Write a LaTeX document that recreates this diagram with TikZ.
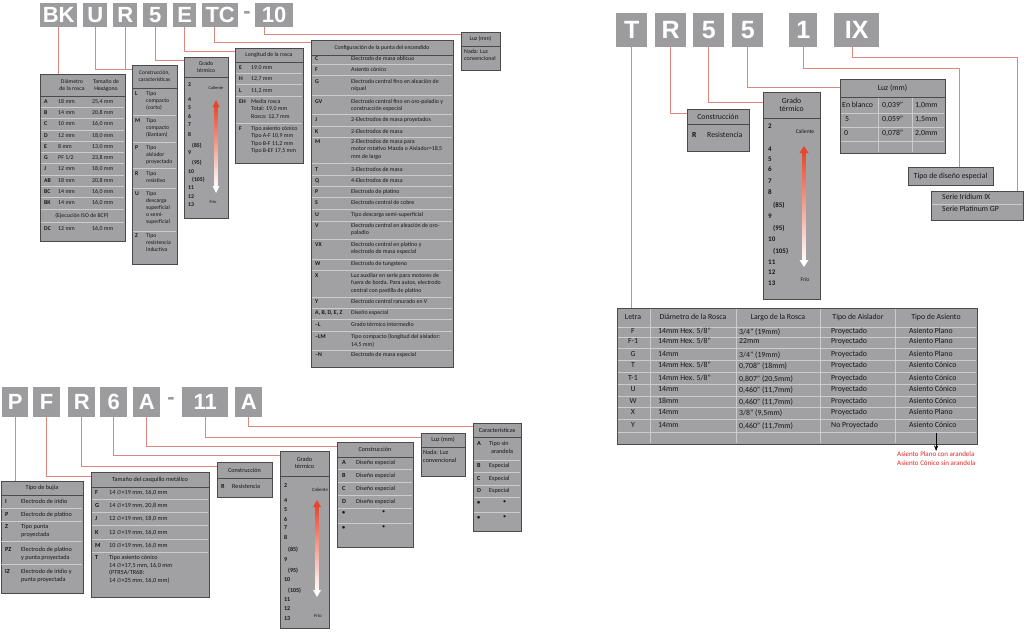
\documentclass[tikz,border=0pt]{standalone}
\usepackage{fontspec}
\setmainfont{Carlito}
\newfontfamily\symfont{DejaVu Sans}
\newfontfamily\keyfont{Liberation Sans}
\usetikzlibrary{arrows.meta}

\definecolor{keyfill}{RGB}{156,156,158}
\definecolor{tabfill}{RGB}{161,161,164}
\definecolor{tabline}{RGB}{74,74,76}
\definecolor{rowsep}{RGB}{204,204,206}
\definecolor{leadred}{RGB}{221,136,126}
\definecolor{arrred}{RGB}{232,70,44}
\definecolor{notered}{RGB}{222,38,38}
\definecolor{txtdark}{RGB}{22,22,24}

\newcommand{\ddiam}{{\symfont\fontsize{5.4}{6}\selectfont ∅}}

\begin{document}
\begin{tikzpicture}[x=1pt, y=-1pt, >=Stealth, text=txtdark,
  font=\fontsize{5.8}{7}\selectfont,
  keybox/.style={fill=keyfill, text=white, inner sep=0pt, anchor=north west, font=\keyfont\fontsize{22}{22}\selectfont\bfseries},
  keybig/.style={keybox, font=\keyfont\fontsize{25}{25}\selectfont\bfseries},
  keydash/.style={text=keyfill, inner sep=0pt, font=\keyfont\fontsize{22}{22}\selectfont\bfseries},
  tab/.style={draw=tabline, fill=tabfill, line width=1.1pt, inner sep=0pt, anchor=north west},
  lead/.style={draw=leadred, line width=0.9pt},
  hsep/.style={draw=tabline, line width=0.8pt},
  rsep/.style={draw=rowsep, line width=0.5pt},
  hd/.style={inner sep=0pt, align=center},
  lt/.style={inner sep=0pt, anchor=north west, yshift=2.9pt, font=\fontsize{5.8}{7}\selectfont\bfseries},
  tx/.style={inner sep=0pt, anchor=north west, yshift=2.9pt, align=left, font=\fontsize{5.9}{7.5}\selectfont},
  hdb/.style={hd, font=\fontsize{6.2}{7.5}\selectfont},
  ltb/.style={lt, yshift=0.2pt, font=\fontsize{6.2}{7.7}\selectfont\bfseries},
  txb/.style={tx, yshift=0.2pt, font=\fontsize{6.2}{7.7}\selectfont},
  hdr/.style={hd, font=\fontsize{7.8}{8.5}\selectfont},
  ltr/.style={lt, yshift=1pt, font=\fontsize{7.8}{8.5}\selectfont\bfseries},
  txr/.style={tx, yshift=1pt, font=\fontsize{7.8}{8.5}\selectfont},
  numr/.style={lt, yshift=0.8pt, font=\fontsize{7}{8}\selectfont\bfseries},
  numb/.style={lt, yshift=0.2pt, font=\fontsize{6}{7}\selectfont\bfseries},
  tiny/.style={hd, font=\fontsize{4.4}{5}\selectfont},
  note/.style={inner sep=0pt, anchor=north west, align=left, text=notered, font=\fontsize{7}{9.5}\selectfont}]

  \fill[white] (0,0) rectangle (1024,634);
  \useasboundingbox (0,0) rectangle (1024,634);

  % ---------- BKUR5ETC-10 ----------
  \node[keybox, minimum width=37, minimum height=24] (kBK) at (40,3) {BK};
  \node[keybox, minimum width=24, minimum height=24] (kU) at (83,3) {U};
  \node[keybox, minimum width=24, minimum height=24] (kR) at (113,3) {R};
  \node[keybox, minimum width=24, minimum height=24] (k5) at (143,3) {5};
  \node[keybox, minimum width=23, minimum height=24] (kE) at (173,3) {E};
  \node[keybox, minimum width=36, minimum height=24] (kTC) at (202,3) {TC};
  \node[keydash] (kD1) at (247,15) {-};
  \node[keybox, minimum width=38, minimum height=24] (k10) at (255,3) {10};

  % Diametro
  \node[tab, minimum width=85, minimum height=167] (tDiam) at (40,74) {};
  \draw[hsep] (40,96) -- (125,96);
  \node[hd] (hDiam1) at (72,85) {Diámetro\\de la rosca};
  \node[hd] (hDiam2) at (106,85) {Tamaño de\\Hexágono};
  \foreach \yy in {107.5,118.5,130,141.5,152.5,163.5,175,186.5,197.5,209.5,222.5}
    \draw[rsep] (40.6,\yy) -- (124.4,\yy);
  \foreach \ky/\va/\vb/\yy [count=\i] in {A/18 mm/{25,4 mm}/102, B/14 mm/{20,8 mm}/113,
      C/10 mm/{16,0 mm}/124, D/12 mm/{18,0 mm}/136, E/8 mm/{13,0 mm}/147, G/{PF 1/2}/{23,8 mm}/158,
      J/12 mm/{18,0 mm}/169, AB/18 mm/{20,8 mm}/181, BC/14 mm/{16,0 mm}/192,
      BK/14 mm/{16,0 mm}/203, DC/12 mm/{16,0 mm}/229}
  {
    \node[lt] (dK\i) at (44,\yy) {\ky};
    \node[tx] (dA\i) at (58,\yy) {\va};
    \node[tx] (dB\i) at (92,\yy) {\vb};
  }
  \node[hd] (dIso) at (82,216) {(Ejecución ISO de BCP)};

  % Construccion, caracteristicas
  \node[tab, minimum width=45, minimum height=199] (tCons) at (132,65) {};
  \draw[hsep] (132,88) -- (177,88);
  \node[hd, font=\fontsize{5.5}{7}\selectfont] (hCons) at (154.5,76.5) {Construcción,\\características};
  \foreach \yy in {115,142,168,188,231}
    \draw[rsep] (132.6,\yy) -- (176.4,\yy);
  \foreach \ky/\va/\yy [count=\i] in {L/{Tipo\\compacto\\(corto)}/94, M/{Tipo\\compacto\\(Bantam)}/121,
      P/{Tipo\\aislador\\proyectado}/148, R/{Tipo\\resistivo}/174,
      U/{Tipo\\descarga\\superficial\\o semi-\\superficial}/194, Z/{Tipo\\resistencia\\inductiva}/236}
  {
    \node[lt] (cK\i) at (135,\yy) {\ky};
    \node[tx, font=\fontsize{5.7}{7}\selectfont] (cT\i) at (146,\yy) {\va};
  }

  % Grado termico
  \node[tab, minimum width=44, minimum height=161] (tGrado1) at (184,57) {};
  \draw[hsep] (184,77) -- (228,77);
  \node[hd] (hGrado1) at (206,67) {Grado\\térmico};
  \foreach \nn/\dx/\yy [count=\i] in {2/0/85, 4/0/100, 5/0/108, 6/0/117, 7/0/125, 8/0/135, (85)/4/146,
      9/0/153, (95)/4/163, 10/0/172, (105)/4/180, 11/0/188, 12/0/197, 13/0/205}
    \node[lt] (g1n\i) at (188+\dx,\yy) {\nn};
  \node[tiny] (g1hot) at (216,88) {Caliente};
  \node[tiny] (g1cold) at (213,202) {Frío};

  % Longitud de la rosca
  \node[tab, minimum width=68, minimum height=115] (tLong) at (235,48) {};
  \draw[hsep] (235,62) -- (303,62);
  \node[hd] (hLong) at (269,55) {Longitud de la rosca};
  \foreach \yy in {73,84,96,123}
    \draw[rsep] (235.6,\yy) -- (302.4,\yy);
  \foreach \ky/\va/\yy [count=\i] in {E/{19,0 mm}/68, H/{12,7 mm}/79, L/{11,2 mm}/91,
      EH/{Media rosca\\Total: 19,0 mm\\Rosca: 12,7 mm}/102,
      F/{Tipo asiento cónico\\Tipo A-F 10,9 mm\\Tipo B-F 11,2 mm\\Tipo B-EF 17,5 mm}/129}
  {
    \node[lt] (lK\i) at (239,\yy) {\ky};
    \node[tx] (lT\i) at (251,\yy) {\va};
  }

  % Configuracion de la punta
  \node[tab, minimum width=142, minimum height=327] (tConf) at (311,40) {};
  \draw[hsep] (311,55) -- (453,55);
  \node[hd] (hConf) at (382,47.5) {Configuración de la punta del encendido};
  \foreach \yy in {64,75,95,114,126,137,163,175,186,197,209,221,239,259,270,297,308,319,331,350}
    \draw[rsep] (311.6,\yy) -- (452.4,\yy);
  \foreach \ky/\va/\yy [count=\i] in {
      C/{Electrodo de masa oblicuo}/59,
      F/{Asiento cónico}/70,
      G/{Electrodo central fino en aleación de\\níquel}/82,
      GV/{Electrodo central fino en oro-paladio y\\construcción especial}/102,
      J/{2-Electrodos de masa proyetados}/120,
      K/{2-Electrodos de masa}/132,
      M/{2-Electrodos de masa para\\motor rotativo Mazda o Aislador=18,5\\mm de largo}/142,
      T/{3-Electrodos de masa}/170,
      Q/{4-Electrodos de masa}/181,
      P/{Electrodo de platino}/192,
      S/{Electrodo central de cobre}/203.5,
      U/{Tipo descarga semi-superficial}/215,
      V/{Electrodo central en aleación de oro-\\paladio}/226,
      VX/{Electrodo central en platino y\\electrodo de masa especial}/245,
      W/{Electrodo de tungsteno}/264,
      X/{Luz auxiliar en serie para motores de\\fuera de borda. Para autos, electrodo\\central con pastilla de platino}/276,
      Y/{Electrodo central ranurado en V}/302,
      {A, B, D, E, Z}/{Diseño especial}/313,
      {--L}/{Grado térmico intermedio}/325,
      {--LM}/{Tipo compacto (longitud del aislador:\\14,5 mm)}/337,
      {--N}/{Electrodo de masa especial}/355}
  {
    \node[lt] (fK\i) at (315,\yy) {\ky};
    \node[tx] (fT\i) at (351,\yy) {\va};
  }

  % Luz
  \node[tab, minimum width=39, minimum height=38] (tLuz1) at (461,32) {};
  \draw[hsep] (461,46) -- (500,46);
  \node[hd] (hLuz1) at (480.5,39) {Luz (mm)};
  \node[tx] (zLuz1) at (464,52) {Nada: Luz\\convencional};

  % lineas de llamada
  \draw[lead] (kBK.south) -- (kBK.south |- tDiam.north);
  \draw[lead] (kU.south) |- ([yshift=-4pt]tCons.north west);
  \draw[lead] (kR.south) -- ++(0,42);
  \draw[lead] (k5.south) |- ([yshift=-3pt]tGrado1.north west);
  \draw[lead] (kE.south) |- ([yshift=-3pt]tLong.north west);
  \draw[lead] ([xshift=-6pt]kTC.south) |- ([yshift=-2pt]tConf.north west);
  \draw[lead] ([xshift=-10pt]k10.south) |- ([yshift=-2pt]tLuz1.north west);

  % ---------- TR55 1IX ----------
  \node[keybig, minimum width=31, minimum height=34] (kT2) at (616,13) {T};
  \node[keybig, minimum width=31, minimum height=34] (kR2) at (655,13) {R};
  \node[keybig, minimum width=31, minimum height=34] (k5a) at (693,13) {5};
  \node[keybig, minimum width=31, minimum height=34] (k5b) at (732,13) {5};
  \node[keybig, minimum width=28, minimum height=34] (k1) at (789,13) {1};
  \node[keybig, minimum width=45, minimum height=34] (kIX) at (834,13) {IX};

  % Construccion
  \node[tab, minimum width=62, minimum height=42] (tCons2) at (687,109) {};
  \draw[hsep] (687,124) -- (749,124);
  \node[hdr] (hCons2) at (718,116.5) {Construcción};
  \node[ltr] (c2K) at (692,136) {R};
  \node[txr] (c2T) at (707,136) {Resistencia};

  % Grado termico
  \node[tab, minimum width=57, minimum height=207] (tGrado2) at (763,92) {};
  \draw[hsep] (763,118) -- (820,118);
  \node[hdr] (hGrado2) at (791.5,105) {Grado\\térmico};
  \foreach \nn/\dx/\yy [count=\i] in {2/0/127, 4/0/150, 5/0/160, 6/0/170, 7/0/182, 8/0/193, (85)/5/206,
      9/0/217, (95)/5/229, 10/0/240, (105)/5/252, 11/0/263, 12/0/273, 13/0/284}
    \node[numr] (g2n\i) at (768+\dx,\yy) {\nn};
  \node[tiny, font=\fontsize{5.6}{6}\selectfont] (g2hot) at (805,132) {Caliente};
  \node[tiny, font=\fontsize{5.6}{6}\selectfont] (g2cold) at (805,280) {Frío};

  % Luz (mm)
  \node[tab, minimum width=105, minimum height=74] (tLuz2) at (840,79) {};
  \draw[hsep] (840,97) -- (945,97);
  \node[hdr] (hLuz2) at (892.5,88) {Luz (mm)};
  \foreach \xx in {878,912}
    \draw[rsep] (\xx,97.6) -- (\xx,152.4);
  \foreach \yy in {113,127,141}
    \draw[rsep] (840.6,\yy) -- (944.4,\yy);
  \foreach \va/\vb/\vc/\dx/\yy [count=\i] in {En blanco/{0,039"}/{1,0mm}/0/106,
      5/{0,059"}/{1,5mm}/3/120, 0/{0,078"}/{2,0mm}/2/134}
  {
    \node[txr] (zA\i) at (842+\dx,\yy) {\va};
    \node[txr] (zB\i) at (882,\yy) {\vb};
    \node[txr] (zC\i) at (915,\yy) {\vc};
  }

  % Tipo de diseno / Serie
  \node[tab, minimum width=85, minimum height=18] (tTipo) at (908,167) {};
  \node[hdr] (hTipo) at (950.5,176) {Tipo de diseño especial};
  \node[tab, minimum width=92, minimum height=29] (tSerie) at (931,191) {};
  \draw[rsep] (931.6,204) -- (1022.4,204);
  \node[txr] (sA) at (942,198) {Serie Iridium IX};
  \node[txr] (sB) at (942,210) {Serie Platinum GP};

  % Tabla de letras
  \node[tab, minimum width=360, minimum height=136] (tLetra) at (617,308) {};
  \foreach \xx in {650,736,820,895}
    \draw[rsep] (\xx,308.6) -- (\xx,443.4);
  \foreach \yy in {327,337,348,360,372,384,396,407,419,432}
    \draw[rsep] (617.6,\yy) -- (976.4,\yy);
  \node[hdr] (hL1) at (633,317) {Letra};
  \node[hdr] (hL2) at (693,317) {Diámetro de la Rosca};
  \node[hdr] (hL3) at (778,317) {Largo de la Rosca};
  \node[hdr] (hL4) at (858,317) {Tipo de Aislador};
  \node[hdr] (hL5) at (936,317) {Tipo de Asiento};
  \foreach \ky/\va/\vb/\vc/\vd/\yy [count=\i] in {
      F/{14mm Hex. 5/8"}/{3/4" (19mm)}/Proyectado/Asiento Plano/332,
      {F-1}/{14mm Hex. 5/8"}/22mm/Proyectado/Asiento Plano/342,
      G/14mm/{3/4" (19mm)}/Proyectado/Asiento Plano/355,
      T/{14mm Hex. 5/8"}/{0,708" (18mm)}/Proyectado/Asiento Cónico/366,
      {T-1}/{14mm Hex. 5/8"}/{0,807" (20,5mm)}/Proyectado/Asiento Cónico/379,
      U/14mm/{0,460" (11,7mm)}/Proyectado/Asiento Cónico/390,
      W/18mm/{0,460" (11,7mm)}/Proyectado/Asiento Cónico/402,
      X/14mm/{3/8" (9,5mm)}/Proyectado/Asiento Plano/413,
      Y/14mm/{0,460" (11,7mm)}/No Proyectado/Asiento Cónico/426}
  {
    \node[txr, anchor=north] (rK\i) at (633,\yy) {\ky};
    \node[txr] (rA\i) at (658,\yy) {\va};
    \node[txr] (rB\i) at (739,\yy) {\vb};
    \node[txr] (rC\i) at (831,\yy) {\vc};
    \node[txr] (rD\i) at (909,\yy) {\vd};
  }
  \node[note] (nota) at (897,451) {Asiento Plano con arandela\\Asiento Cónico sin arandela};
  \coordinate (aTop) at ([xshift=-42pt, yshift=12pt]tLetra.south east);
  \draw[->, line width=0.6pt] (aTop) -- (aTop |- nota.north);

  % lineas de llamada
  \draw[lead] (kT2.south) -- (kT2.south |- tLetra.north);
  \draw[lead] (kR2.south) |- ([yshift=-4pt]tCons2.north west);
  \draw[lead] (k5a.south) |- ([yshift=-10pt]tGrado2.north west);
  \draw[lead] (k5b.south) |- ([yshift=-8pt]tLuz2.north west);
  \draw[lead] (k1.south) -- ++(0,21) -| ([xshift=8pt]tTipo.north);
  \draw[lead] ([xshift=-4pt]kIX.south) -- ++(0,10) -| ([xshift=40pt]tSerie.north);

  % ---------- PFR6A-11A ----------
  \node[keybox, minimum width=26, minimum height=30] (kP) at (2,387) {P};
  \node[keybox, minimum width=27, minimum height=30] (kF) at (33,387) {F};
  \node[keybox, minimum width=27, minimum height=30] (kR3) at (68,387) {R};
  \node[keybox, minimum width=27, minimum height=30] (k6) at (100,387) {6};
  \node[keybox, minimum width=27, minimum height=30] (kA) at (133,387) {A};
  \node[keydash] (kD2) at (171,401) {-};
  \node[keybox, minimum width=46, minimum height=30] (k11) at (182,387) {11};
  \node[keybox, minimum width=27, minimum height=30] (kA2) at (235,387) {A};

  % Tipo de bujia
  \node[tab, minimum width=82.4, minimum height=112] (tBujia) at (0.6,481) {};
  \draw[hsep] (0.6,495) -- (83,495);
  \node[hdb] (hBujia) at (42,488) {Tipo de bujía};
  \foreach \yy in {508,521,541,564}
    \draw[rsep] (1.2,\yy) -- (82.4,\yy);
  \foreach \ky/\va/\yy [count=\i] in {I/{Electrodo de iridio}/502, P/{Electrodo de platino}/515,
      Z/{Tipo punta\\proyectada}/527, PZ/{Electrodo de platino\\y punta proyectada}/550,
      IZ/{Electrodo de iridio y\\punta proyectada}/572}
  {
    \node[ltb] (bK\i) at (5,\yy) {\ky};
    \node[txb] (bT\i) at (21,\yy) {\va};
  }

  % Tamano del casquillo
  \node[tab, minimum width=118, minimum height=125] (tTam) at (91,472) {};
  \draw[hsep] (91,487) -- (209,487);
  \node[hdb] (hTam) at (150,479.5) {Tamaño del casquillo metálico};
  \foreach \yy in {499,512,525,539,552}
    \draw[rsep] (91.6,\yy) -- (208.4,\yy);
  \foreach \ky/\va/\yy [count=\i] in {F/{14 \ddiam×19 mm, 16,0 mm}/493, G/{14 \ddiam×19 mm, 20,8 mm}/506,
      J/{12 \ddiam×19 mm, 18,0 mm}/519, K/{12 \ddiam×19 mm, 16,0 mm}/533, M/{10 \ddiam×19 mm, 16,0 mm}/546,
      T/{Tipo asiento cónico\\14 \ddiam×17,5 mm, 16,0 mm\\(PTR5A/TR6B:\\14 \ddiam×25 mm, 16,0 mm)}/558}
  {
    \node[ltb] (mK\i) at (95,\yy) {\ky};
    \node[txb] (mT\i) at (109,\yy) {\va};
  }

  % Construccion R
  \node[tab, minimum width=55, minimum height=35] (tConsR) at (217,462) {};
  \draw[hsep] (217,478) -- (272,478);
  \node[hdb] (hConsR) at (244.5,470) {Construcción};
  \node[ltb] (rrK) at (221,487) {R};
  \node[txb] (rrT) at (232,487) {Resistencia};

  % Grado termico
  \node[tab, minimum width=49, minimum height=177] (tGrado3) at (280,451) {};
  \draw[hsep] (280,476) -- (329,476);
  \node[hdb] (hGrado3) at (304.5,463) {Grado\\térmico};
  \foreach \nn/\dx/\yy [count=\i] in {2/0/486, 4/0/501, 5/0/511, 6/0/520, 7/0/529, 8/0/538, (85)/4/550,
      9/0/560, (95)/4/571, 10/0/580, (105)/4/591, 11/0/600, 12/0/609, 13/0/619}
    \node[numb] (g3n\i) at (284+\dx,\yy) {\nn};
  \node[tiny, font=\fontsize{4.8}{6}\selectfont] (g3hot) at (320,490) {Caliente};
  \node[tiny, font=\fontsize{4.8}{6}\selectfont] (g3cold) at (318,616) {Frío};

  % Construccion A-D
  \node[tab, minimum width=76, minimum height=105] (tConsAD) at (337,442) {};
  \draw[hsep] (337,457) -- (413,457);
  \node[hdb] (hConsAD) at (375,449.5) {Construcción};
  \foreach \yy in {469,482,495,508,523}
    \draw[rsep] (337.6,\yy) -- (412.4,\yy);
  \foreach \ky/\va/\dx/\yy [count=\i] in {A/{Diseño especial}/356/463, B/{Diseño especial}/356/476,
      C/{Diseño especial}/356/489, D/{Diseño especial}/356/502, •/•/382/514, •/•/382/529}
  {
    \node[ltb] (aK\i) at (342,\yy) {\ky};
    \node[txb] (aT\i) at (\dx,\yy) {\va};
  }

  % Luz (mm)
  \node[tab, minimum width=44, minimum height=43] (tLuz3) at (421,433) {};
  \draw[hsep] (421,447) -- (465,447);
  \node[hdb] (hLuz3) at (443,440) {Luz (mm)};
  \node[txb] (zLuz3) at (423,453) {Nada: Luz\\convencional};

  % Caracteristicas
  \node[tab, minimum width=48, minimum height=108] (tCar) at (473,423) {};
  \draw[hsep] (473,437) -- (521,437);
  \node[hdb] (hCar) at (497,430) {Características};
  \foreach \yy in {460,472,485,497,512}
    \draw[rsep] (473.6,\yy) -- (520.4,\yy);
  \foreach \ky/\va/\dx/\yy [count=\i] in {A/{Tipo sin\\\hspace*{2pt}arandela}/0/444, B/Especial/0/466,
      C/Especial/0/479, D/Especial/0/491, •/•/14/504, •/•/14/519}
  {
    \node[ltb] (kK\i) at (477,\yy) {\ky};
    \node[txb] (kT\i) at (489+\dx,\yy) {\va};
  }

  % lineas de llamada
  \draw[lead] (kP.south) -- (kP.south |- tBujia.north);
  \draw[lead] (kF.south) |- ([yshift=-4pt]tTam.north west);
  \draw[lead] (kR3.south) |- ([yshift=-4pt]tConsR.north west);
  \draw[lead] (k6.south) |- ([yshift=-4pt]tGrado3.north west);
  \draw[lead] (kA.south) |- ([yshift=-4pt]tConsAD.north west);
  \draw[lead] (k11.south) |- ([yshift=-4pt]tLuz3.north west);
  \draw[lead] (kA2.south) |- ([yshift=-3pt]tCar.north west);

  % flechas de grado termico
  \foreach \ax/\ay/\az/\aw in {216/100/193/3.5, 804/146/267/4.5, 317/500/597/4}
  {
    \shade[top color=arrred, bottom color=white] (\ax-1.4,\ay+6) rectangle (\ax+1.4,\az-6);
    \fill[arrred] (\ax-\aw,\ay+7) -- (\ax,\ay) -- (\ax+\aw,\ay+7) -- cycle;
    \fill[white] (\ax-\aw,\az-7) -- (\ax,\az) -- (\ax+\aw,\az-7) -- cycle;
  }
\end{tikzpicture}
\end{document}
